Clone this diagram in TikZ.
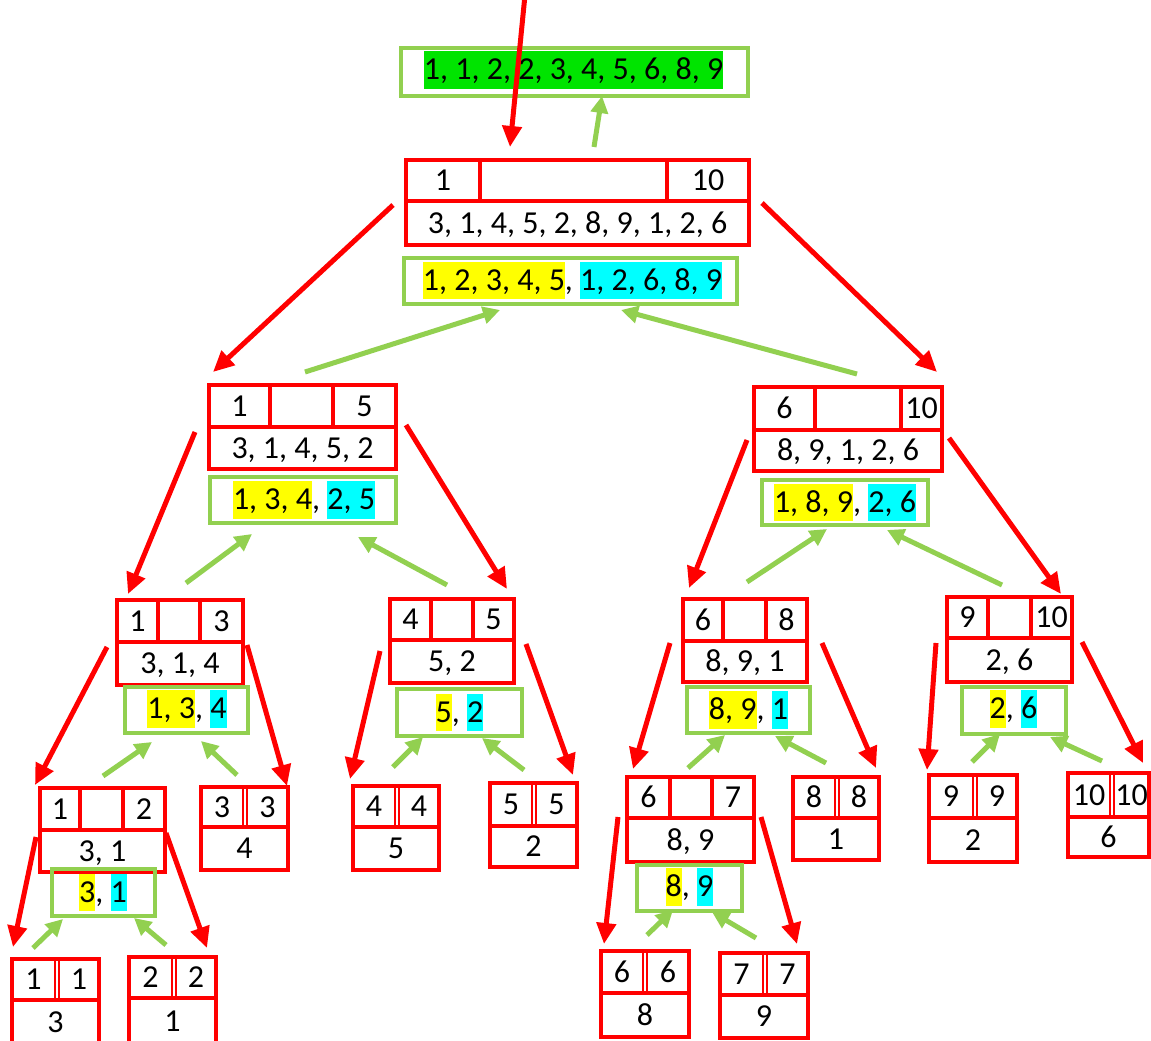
\documentclass[tikz,border=0pt]{standalone}
\usepackage{fontspec}
\setmainfont{Carlito}
\usetikzlibrary{arrows.meta,fit}
\definecolor{rd}{RGB}{255,0,0}
\definecolor{gr}{RGB}{146,208,80}
\definecolor{hg}{RGB}{0,228,0}
\definecolor{hy}{RGB}{255,255,0}
\definecolor{hc}{RGB}{0,255,255}
\setlength\fboxsep{0pt}
\newcommand\hlstrut{\rule[-0.28em]{0pt}{1.18em}}
\newcommand\hly[1]{\colorbox{hy}{\hlstrut#1}}
\newcommand\hlc[1]{\colorbox{hc}{\hlstrut#1}}
\newcommand\hlg[1]{\colorbox{hg}{\hlstrut#1}}
\tikzset{
  rbox/.style={draw=rd, line width=4pt, inner sep=0pt},
  rline/.style={draw=rd, line width=3.5pt},
  dline/.style={draw=rd, line width=2pt},
  gbox/.style={draw=gr, line width=3.5pt, inner sep=0pt},
  num/.style={inner sep=0pt, anchor=base, font=\fontsize{32}{38}\selectfont},
  hltext/.style={inner sep=0pt, anchor=center, font=\fontsize{32}{38}\selectfont},
  rarr/.style={draw=rd, line width=5pt, -{Triangle[length=21pt,width=19pt]}},
  garr/.style={draw=gr, line width=5pt, -{Triangle[length=17pt,width=17pt]}},
}
% red split box: name, x1, y1, x2, y2, ydiv, v1, v2
\newcommand\RB[8]{%
  \node[rbox, fit={(#2,#3)(#4,#5)}] (#1) {};
  \draw[rline] (#2,#6) -- (#4,#6);
  \draw[rline] (#7,#3) -- (#7,#6);
  \draw[rline] (#8,#3) -- (#8,#6);
  \coordinate (#1-l) at ({(#2+#7)/2},{(#3+#6)/2+10});
  \coordinate (#1-r) at ({(#8+#4)/2},{(#3+#6)/2+10});
  \coordinate (#1-b) at ({(#2+#4)/2},{(#6+#5)/2+10});
}
% leaf box: name, x1, y1, x2, y2, ydiv, c
\newcommand\LB[7]{%
  \node[rbox, fit={(#2,#3)(#4,#5)}] (#1) {};
  \draw[rline] (#2,#6) -- (#4,#6);
  \draw[dline] ({#7-2.2},#3) -- ({#7-2.2},#6);
  \draw[dline] ({#7+2.2},#3) -- ({#7+2.2},#6);
  \coordinate (#1-l) at ({(#2+#7-2)/2},{(#3+#6)/2+10});
  \coordinate (#1-r) at ({(#7+2+#4)/2},{(#3+#6)/2+10});
  \coordinate (#1-b) at ({(#2+#4)/2},{(#6+#5)/2+10});
}
\newcommand\RT[4]{%
  \node[num] (#1-lt) at (#1-l) {#2};
  \node[num] (#1-rt) at (#1-r) {#3};
  \node[num] (#1-bt) at (#1-b) {#4};
}
% green box: name, x1, y1, x2, y2, cx, cy, content
\newcommand\GB[8]{%
  \node[gbox, fit={(#2,#3)(#4,#5)}] (#1) {};
  \node[hltext] (#1-t) at (#6,#7) {#8};
}
\newcommand\conn[4]{%
  \coordinate (#1s) at (#3);
  \coordinate (#1e) at (#4);
  \draw[#2] (#1s) -- (#1e);
}
\begin{document}
\begin{tikzpicture}[x=1pt,y=-1pt]
\useasboundingbox (0,0) rectangle (1151,1041);
\fill[white] (0,0) rectangle (1151,1041);

% ---- root
\GB{g0}{401}{48}{748}{96}{573.5}{70}{\hlg{1, 1, 2, 2, 3, 4, 5, 6, 8, 9}}
\RB{r}{406}{160}{749}{245}{201}{480}{667}
\RT{r}{1}{10}{3, 1, 4, 5, 2, 8, 9, 1, 2, 6}
\GB{g1}{404}{258}{737}{304}{572.5}{280.5}{\hly{1, 2, 3, 4, 5}, \hlc{1, 2, 6, 8, 9}}

% ---- level 1
\RB{a}{209}{385}{396}{469}{427}{270}{333}
\RT{a}{1}{5}{3, 1, 4, 5, 2}
\GB{ga}{210}{477}{396}{523}{304}{500}{\hly{1, 3, 4}, \hlc{2, 5}}
\RB{b}{754}{387}{942}{471}{430}{815}{901}
\RT{b}{6}{10}{8, 9, 1, 2, 6}
\GB{gb}{762}{480}{928}{525}{845}{502.5}{\hly{1, 8, 9}, \hlc{2, 6}}

% ---- level 2
\RB{nA}{117}{600}{243}{685}{642}{158}{200}
\RT{nA}{1}{3}{3, 1, 4}
\GB{gA}{125}{687}{248}{733}{187}{709}{\hly{1, 3}, \hlc{4}}
\RB{nB}{390}{599}{514}{683}{640}{431}{473}
\RT{nB}{4}{5}{5, 2}
\GB{gB}{397}{689}{522}{736}{459.5}{712.5}{\hly{5}, \hlc{2}}
\RB{nC}{683}{599}{807}{682}{641}{723}{766}
\RT{nC}{6}{8}{8, 9, 1}
\GB{gC}{687}{687}{810}{733}{748.5}{710}{\hly{8, 9}, \hlc{1}}
\RB{nD}{947}{597}{1072}{682}{638}{988}{1031}
\RT{nD}{9}{10}{2, 6}
\GB{gD}{962}{687}{1066}{734}{1013.5}{709}{\hly{2}, \hlc{6}}

% ---- level 3
\RB{nE}{40}{788}{165}{872}{830}{80}{123}
\RT{nE}{1}{2}{3, 1}
\GB{gE}{52}{869}{155}{916}{103}{892.5}{\hly{3}, \hlc{1}}
\LB{nF}{201}{787}{288}{870}{827}{245}
\RT{nF}{3}{3}{4}
\LB{nG}{353}{786}{439}{870}{827}{397}
\RT{nG}{4}{4}{5}
\LB{nH}{490}{783}{577}{867}{826}{534}
\RT{nH}{5}{5}{2}
\RB{nI}{627}{777}{754}{862}{818}{670}{712}
\RT{nI}{6}{7}{8, 9}
\GB{gI}{637}{865}{742}{911}{689.5}{887}{\hly{8}, \hlc{9}}
\LB{nJ}{793}{777}{879}{860}{818}{837}
\RT{nJ}{8}{8}{1}
\LB{nK}{929}{775}{1017}{862}{818}{975}
\RT{nK}{9}{9}{2}
\LB{nL}{1068}{773}{1149}{857}{817}{1112}
\RT{nL}{10}{10}{6}

% ---- level 4
\LB{nM}{12}{959}{99}{1044}{1000}{57}
\RT{nM}{1}{1}{3}
\LB{nN}{129}{957}{216}{1044}{998}{174}
\RT{nN}{2}{2}{1}
\LB{nO}{601}{951}{689}{1037}{993}{645}
\RT{nO}{6}{6}{8}
\LB{nP}{720}{953}{808}{1038}{995}{765}
\RT{nP}{7}{7}{9}

% ---- red arrows (split)
\conn{rt}{rarr}{525,-5}{510,147}
\conn{ra}{rarr}{393,205}{213,372}
\conn{rb}{rarr}{762,203}{937,372}
\conn{aA}{rarr}{195,432}{128,594}
\conn{aB}{rarr}{406,425}{507,589}
\conn{bC}{rarr}{747,440}{689,588}
\conn{bD}{rarr}{949,438}{1061,594}
\conn{AE}{rarr}{107,647}{35,785}
\conn{AF}{rarr}{247,645}{287,786}
\conn{BG}{rarr}{380,651}{350,779}
\conn{BH}{rarr}{526,644}{573,775}
\conn{CI}{rarr}{670,643}{633,769}
\conn{CJ}{rarr}{822,643}{876,768}
\conn{DK}{rarr}{936,643}{927,770}
\conn{DL}{rarr}{1082,642}{1143,763}
\conn{EM}{rarr}{36,837}{13,947}
\conn{EN}{rarr}{166,833}{207,948}
\conn{IO}{rarr}{618,817}{604,944}
\conn{IP}{rarr}{761,817}{797,944}

% ---- green arrows (merge)
\conn{mr}{garr}{594,147}{602,96}
\conn{ma}{garr}{305,372}{500,310}
\conn{mb}{garr}{857,374}{621,310}
\conn{mA}{garr}{186,583}{252,534}
\conn{mB}{garr}{447,585}{358,537}
\conn{mC}{garr}{747,582}{827,529}
\conn{mD}{garr}{1002,585}{887,530}
\conn{mE}{garr}{103,776}{152,742}
\conn{mF}{garr}{237,775}{201,741}
\conn{mG}{garr}{393,767}{423,737}
\conn{mH}{garr}{524,770}{482,738}
\conn{mI}{garr}{688,768}{725,735}
\conn{mJ}{garr}{826,763}{775,736}
\conn{mK}{garr}{972,762}{1000,734}
\conn{mL}{garr}{1102,761}{1050,737}
\conn{mM}{garr}{33,948}{63,919}
\conn{mN}{garr}{166,945}{134,918}
\conn{mO}{garr}{647,935}{673,910}
\conn{mP}{garr}{756,938}{712,912}
\end{tikzpicture}
\end{document}
